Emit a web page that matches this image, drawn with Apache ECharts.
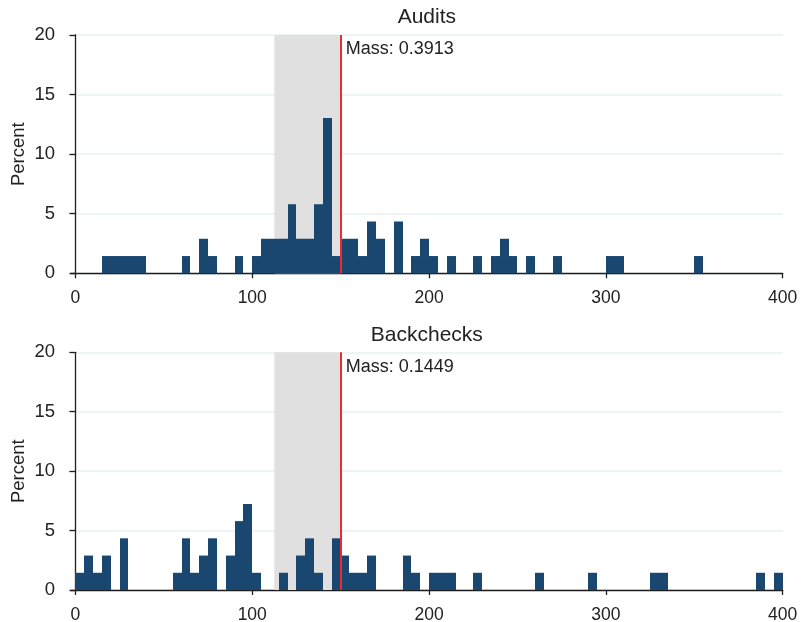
<!DOCTYPE html>
<html>
<head>
<meta charset="utf-8">
<script src="https://cdn.jsdelivr.net/npm/echarts@6/dist/echarts.min.js"></script>
<style>html,body{margin:0;padding:0;background:#fff}#c{width:801px;height:622px}</style>
</head>
<body>
<div id="c"></div>
<script>
// Bin lower edges (width 5) and percent heights
var binWidth = 5;
var auditBins = [15,20,25,30,35,60,70,75,90,100,105,110,115,120,125,130,135,140,145,150,155,160,165,170,180,190,195,200,210,225,235,240,245,255,270,300,305,350];
var auditPct  = [1.449,1.449,1.449,1.449,1.449,1.449,2.899,1.449,1.449,1.449,2.899,2.899,2.899,5.797,2.899,2.899,5.797,13.043,1.449,2.899,2.899,1.449,4.348,2.899,4.348,1.449,2.899,1.449,1.449,1.449,1.449,2.899,1.449,1.449,1.449,1.449,1.449,1.449];
var backBins = [0,5,10,15,25,55,60,65,70,75,85,90,95,100,115,125,130,135,145,150,155,160,165,185,190,200,205,210,225,260,290,325,330,385,395];
var backPct  = [1.449,2.899,1.449,2.899,4.348,1.449,4.348,1.449,2.899,4.348,2.899,5.797,7.246,1.449,1.449,2.899,4.348,1.449,4.348,2.899,1.449,1.449,2.899,2.899,1.449,1.449,1.449,1.449,1.449,1.449,1.449,1.449,1.449,1.449,1.449];
var panelTitles = ['Audits', 'Backchecks'];
var massLabels = ['Mass: 0.3913', 'Mass: 0.1449'];
var bandRange = [112.5, 150];
var cutoff = 150;
var xTicks = [0, 100, 200, 300, 400];

var FONT = 'Liberation Sans, Arial, Helvetica, sans-serif';
var barColor = '#1a476f';
var axisColor = '#1e1e1e';

var chart = echarts.init(document.getElementById('c'));

function mkData(bins, pct) {
  return bins.map(function (b, i) { return [b, b + binWidth, pct[i]]; });
}
function renderBar(params, api) {
  var p0 = api.coord([api.value(0), api.value(2)]);
  var p1 = api.coord([api.value(1), 0]);
  var x0 = Math.round(p0[0]), x1 = Math.round(p1[0]);
  return {
    type: 'rect',
    shape: { x: x0, y: p0[1], width: x1 - x0, height: p1[1] - p0[1] },
    style: { fill: barColor }
  };
}

var grids = [
  { left: 71, right: 18.3, top: 35, height: 238.3, outerBoundsMode: 'none', containLabel: false },
  { left: 71, right: 18.3, top: 352.3, height: 237.7, outerBoundsMode: 'none', containLabel: false }
];

function xAx(i) {
  return {
    type: 'value', gridIndex: i, min: -2.5, max: 400,
    axisLine: { show: true, onZero: false, lineStyle: { color: axisColor, width: 1.3 } },
    axisTick: { show: true, customValues: xTicks, length: 5, lineStyle: { color: axisColor, width: 1.3 } },
    axisLabel: { customValues: xTicks, margin: 16, fontSize: 17.5, color: '#222', fontFamily: FONT },
    splitLine: { show: false }
  };
}
function yAx(i) {
  return {
    type: 'value', gridIndex: i, min: 0, max: 20, interval: 5,
    name: 'Percent', nameLocation: 'middle', nameGap: 43, nameMoveOverlap: false,
    nameTextStyle: { fontSize: 18.5, color: '#222', fontFamily: FONT },
    axisLine: { show: true, lineStyle: { color: axisColor, width: 1.3 } },
    axisTick: { show: true, length: 6, lineStyle: { color: axisColor, width: 1.3 } },
    axisLabel: { margin: 16, fontSize: 18.5, color: '#222', fontFamily: FONT },
    splitLine: { show: true, lineStyle: { color: '#e9f1f3', width: 1.5 } }
  };
}

function seriesFor(i, bins, pct) {
  return [
    {
      type: 'custom', xAxisIndex: i, yAxisIndex: i, renderItem: renderBar,
      data: mkData(bins, pct), encode: { x: [0, 1], y: 2 }, z: 3,
      markArea: {
        silent: true, itemStyle: { color: '#e0e0e0' },
        data: [[{ xAxis: bandRange[0] }, { xAxis: bandRange[1] }]]
      }
    },
    {
      type: 'line', xAxisIndex: i, yAxisIndex: i, data: [], z: 5,
      markLine: {
        silent: true, symbol: ['none', 'none'], label: { show: false },
        lineStyle: { color: '#ee2a2f', width: 2, type: 'solid' },
        data: [{ xAxis: cutoff }]
      }
    }
  ];
}

chart.setOption({
  animation: false,
  grid: grids,
  xAxis: [xAx(0), xAx(1)],
  yAxis: [yAx(0), yAx(1)],
  series: seriesFor(0, auditBins, auditPct).concat(seriesFor(1, backBins, backPct))
});

var g = [];
for (var i = 0; i < 2; i++) {
  var topLeft = chart.convertToPixel({ gridIndex: i }, [cutoff, 20]);
  var pLeft = chart.convertToPixel({ gridIndex: i }, [-2.5, 20]);
  var pRight = chart.convertToPixel({ gridIndex: i }, [400, 20]);
  g.push({
    type: 'text', x: (pLeft[0] + pRight[0]) / 2, y: pLeft[1] - 17.5, z: 10,
    style: { text: panelTitles[i], font: '21px ' + FONT, fill: '#222', textAlign: 'center', textVerticalAlign: 'middle' }
  });
  g.push({
    type: 'text', x: topLeft[0] + 5, y: topLeft[1] + 14.5, z: 10,
    style: { text: massLabels[i], font: '18px ' + FONT, fill: '#222', textAlign: 'left', textVerticalAlign: 'middle' }
  });
}
chart.setOption({ graphic: g });
</script>
</body>
</html>
